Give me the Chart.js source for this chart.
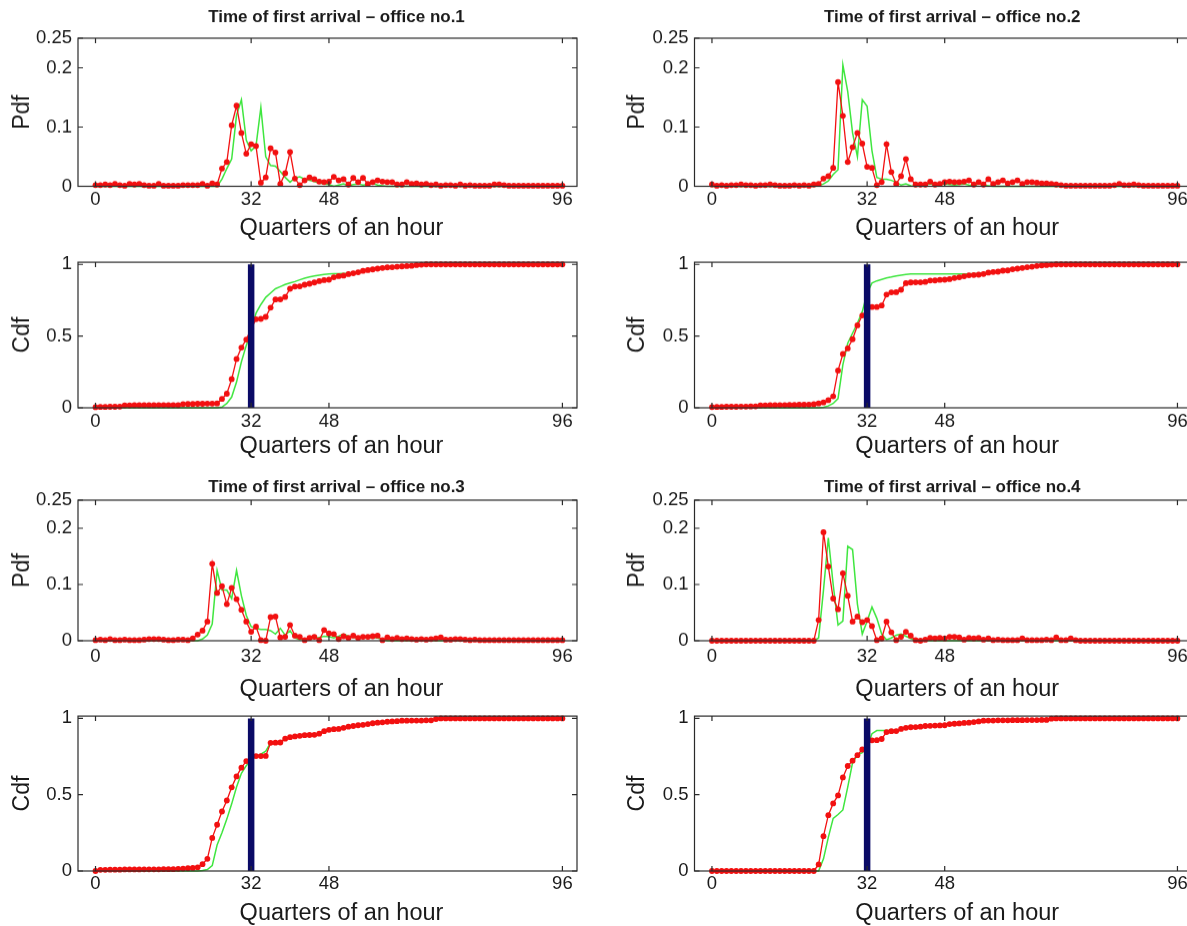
<!DOCTYPE html>
<html>
<head>
<meta charset="utf-8">
<script src="https://cdn.jsdelivr.net/npm/chart.js@4.4.1/dist/chart.umd.min.js"></script>
<style>
  body { margin: 0; background: #fff; overflow: hidden; width: 1187px; height: 926px; position: relative; }
  .panel { position: absolute; }
</style>
</head>
<body>
<div id="panels"></div>
<script>
// quarters of an hour, 0..96
const quarters = [0,1,2,3,4,5,6,7,8,9,10,11,12,13,14,15,16,17,18,19,20,21,22,23,24,25,26,27,28,29,
  30,31,32,33,34,35,36,37,38,39,40,41,42,43,44,45,46,47,48,49,50,51,52,53,54,55,56,57,58,59,
  60,61,62,63,64,65,66,67,68,69,70,71,72,73,74,75,76,77,78,79,80,81,82,83,84,85,86,87,88,89,
  90,91,92,93,94,95,96];
const xTicks = [0, 32, 48, 96];
const pdfTicks = [0, 0.1, 0.2, 0.25];
const cdfTicks = [0, 0.5, 1];
const markQuarter = 32;
const officeNames = ['office no.1', 'office no.2', 'office no.3', 'office no.4'];

// ---- office 1 ----
const office1PdfMeasured = [
  0.002,0.002,0.003,0.002,0.004,0.002,0.001,0.004,0.003,0.004,
  0.002,0.001,0.001,0.004,0.001,0.001,0.001,0.001,0.002,0.002,
  0.002,0.002,0.004,0.001,0.005,0.003,0.030,0.041,0.103,0.136,
  0.090,0.055,0.071,0.068,0.006,0.015,0.064,0.057,0.004,0.022,
  0.058,0.013,0.002,0.010,0.015,0.012,0.008,0.007,0.008,0.016,
  0.010,0.012,0.003,0.014,0.007,0.014,0.004,0.007,0.010,0.008,
  0.007,0.007,0.003,0.003,0.007,0.004,0.005,0.003,0.004,0.002,
  0.003,0.001,0.002,0.002,0.001,0.003,0.001,0.002,0.001,0.001,
  0.001,0.001,0.003,0.003,0.002,0.001,0.001,0.001,0.001,0.001,
  0.001,0.001,0.001,0.001,0.001,0.001,0.001];
const office1PdfModel = [
  0,0,0,0,0,0,0,0,0,0,
  0,0,0,0,0,0,0,0,0,0,
  0,0,0,0,0,0,0.012,0.030,0.046,0.120,
  0.146,0.078,0.060,0.068,0.133,0.050,0.035,0.034,0.025,0.015,
  0.007,0.014,0.016,0.012,0.010,0.008,0.006,0.004,0.003,0.000,
  0.002,0.004,0.001,0.003,0.004,0.002,0.003,0.005,0.002,0.001,
  0,0,0,0,0,0,0,0,0,0,
  0,0,0,0,0,0,0,0,0,0,
  0,0,0,0,0,0,0,0,0,0,
  0,0,0,0,0,0,0];
const office1CdfMeasured = [
  0.004,0.006,0.006,0.007,0.007,0.008,0.017,0.017,0.018,0.018,
  0.018,0.018,0.018,0.019,0.019,0.019,0.019,0.019,0.026,0.027,
  0.027,0.028,0.028,0.029,0.029,0.030,0.062,0.098,0.200,0.340,
  0.420,0.476,0.550,0.618,0.620,0.634,0.698,0.755,0.756,0.773,
  0.830,0.845,0.847,0.858,0.865,0.874,0.883,0.890,0.893,0.910,
  0.918,0.922,0.932,0.938,0.945,0.955,0.960,0.965,0.970,0.975,
  0.979,0.980,0.984,0.986,0.988,0.990,0.995,0.998,1,1,
  1,1,1,1,1,1,1,1,1,1,
  1,1,1,1,1,1,1,1,1,1,
  1,1,1,1,1,1,1];
const office1CdfModel = [
  0,0,0,0,0,0,0,0,0,0,
  0,0,0,0,0,0,0,0,0,0,
  0,0,0,0,0,0,0.005,0.030,0.075,0.180,
  0.320,0.435,0.530,0.660,0.720,0.770,0.800,0.830,0.845,0.860,
  0.870,0.880,0.892,0.904,0.912,0.920,0.925,0.930,0.934,0.935,
  0.936,0.937,0.938,0.940,0.945,0.955,0.960,0.965,0.970,0.975,
  0.979,0.980,0.984,0.986,0.988,0.990,0.995,0.998,1,1,
  1,1,1,1,1,1,1,1,1,1,
  1,1,1,1,1,1,1,1,1,1,
  1,1,1,1,1,1,1];

// ---- office 2 ----
const office2PdfMeasured = [
  0.003,0.001,0.002,0.001,0.002,0.002,0.003,0.002,0.002,0.001,
  0.002,0.002,0.003,0.002,0.001,0.001,0.001,0.002,0.001,0.002,
  0.001,0.003,0.004,0.013,0.017,0.031,0.176,0.119,0.041,0.066,
  0.090,0.072,0.033,0.031,0.002,0.007,0.071,0.024,0.004,0.017,
  0.046,0.012,0.003,0.003,0.003,0.008,0.003,0.004,0.007,0.008,
  0.007,0.007,0.008,0.010,0.003,0.007,0.003,0.012,0.004,0.007,
  0.010,0.005,0.007,0.010,0.004,0.007,0.007,0.006,0.005,0.005,
  0.004,0.003,0.002,0.001,0.001,0.001,0.001,0.001,0.001,0.001,
  0.001,0.001,0.001,0.002,0.004,0.002,0.002,0.003,0.002,0.001,
  0.001,0.001,0.001,0.001,0.001,0.001,0.001];
const office2PdfModel = [
  0,0,0,0,0,0,0,0,0,0,
  0,0,0,0,0,0,0,0,0,0,
  0,0,0.001,0.004,0.009,0.020,0.028,0.205,0.160,0.090,
  0.050,0.146,0.135,0.060,0.015,0.012,0.012,0.010,0.007,0.002,
  0.004,0.001,0.000,0.002,0.003,0.004,0.002,0.003,0.004,0.003,
  0.002,0.003,0.004,0.002,0.001,0.004,0.002,0.001,0,0,
  0,0,0,0,0,0,0,0,0,0,
  0,0,0,0,0,0,0,0,0,0,
  0,0,0,0,0,0,0,0,0,0,
  0,0,0,0,0,0,0];
const office2CdfMeasured = [
  0.005,0.006,0.006,0.007,0.007,0.007,0.008,0.008,0.009,0.010,
  0.016,0.017,0.018,0.018,0.019,0.019,0.020,0.020,0.021,0.021,
  0.022,0.025,0.030,0.037,0.053,0.080,0.260,0.375,0.414,0.478,
  0.575,0.644,0.680,0.703,0.703,0.713,0.789,0.805,0.806,0.823,
  0.869,0.874,0.875,0.875,0.878,0.887,0.888,0.892,0.893,0.897,
  0.905,0.910,0.917,0.924,0.926,0.928,0.933,0.943,0.947,0.949,
  0.956,0.958,0.966,0.970,0.975,0.980,0.984,0.989,0.993,0.995,
  0.998,1,1,1,1,1,1,1,1,1,
  1,1,1,1,1,1,1,1,1,1,
  1,1,1,1,1,1,1];
const office2CdfModel = [
  0,0,0,0,0,0,0,0,0,0,
  0,0,0,0,0,0,0,0,0,0,
  0,0,0,0.004,0.013,0.030,0.064,0.300,0.450,0.520,
  0.590,0.670,0.800,0.870,0.885,0.895,0.905,0.912,0.920,0.925,
  0.930,0.933,0.933,0.933,0.933,0.933,0.933,0.933,0.933,0.933,
  0.933,0.933,0.933,0.933,0.935,0.937,0.940,0.944,0.947,0.949,
  0.956,0.958,0.966,0.970,0.975,0.980,0.984,0.989,0.993,0.995,
  0.998,1,1,1,1,1,1,1,1,1,
  1,1,1,1,1,1,1,1,1,1,
  1,1,1,1,1,1,1];

// ---- office 3 ----
const office3PdfMeasured = [
  0.001,0.002,0.001,0.003,0.001,0.001,0.002,0.001,0.001,0.001,
  0.002,0.003,0.003,0.003,0.002,0.001,0.001,0.002,0.002,0.001,
  0.004,0.011,0.018,0.034,0.137,0.085,0.097,0.065,0.094,0.074,
  0.055,0.034,0.016,0.025,0.001,0.000,0.042,0.043,0.006,0.007,
  0.028,0.009,0.007,0.001,0.005,0.007,0.001,0.019,0.013,0.012,
  0.003,0.008,0.005,0.009,0.005,0.007,0.007,0.008,0.009,0.001,
  0.006,0.003,0.005,0.003,0.004,0.003,0.002,0.003,0.002,0.003,
  0.004,0.006,0.002,0.002,0.003,0.003,0.002,0.001,0.002,0.001,
  0.001,0.001,0.001,0.001,0.001,0.001,0.001,0.001,0.001,0.001,
  0.001,0.001,0.001,0.001,0.001,0.001,0.001];
const office3PdfModel = [
  0,0,0,0,0,0,0,0,0,0,
  0,0,0,0,0,0,0,0,0,0,
  0,0,0.003,0.010,0.030,0.125,0.090,0.090,0.075,0.125,
  0.080,0.045,0.025,0.022,0.020,0.020,0.018,0.012,0.022,0.010,
  0.018,0.005,0.002,0.003,0.004,0.005,0.006,0.008,0.007,0.005,
  0.008,0.012,0.008,0.006,0.005,0.006,0.005,0.006,0.005,0.002,
  0,0,0,0,0,0,0,0,0,0,
  0,0,0,0,0,0,0,0,0,0,
  0,0,0,0,0,0,0,0,0,0,
  0,0,0,0,0,0,0];
const office3CdfMeasured = [
  0.000,0.008,0.008,0.009,0.009,0.009,0.010,0.010,0.010,0.010,
  0.011,0.011,0.011,0.011,0.012,0.012,0.012,0.014,0.016,0.018,
  0.020,0.024,0.045,0.080,0.217,0.303,0.390,0.462,0.548,0.620,
  0.677,0.720,0.745,0.753,0.753,0.754,0.840,0.841,0.842,0.867,
  0.877,0.882,0.886,0.890,0.891,0.892,0.900,0.916,0.925,0.929,
  0.931,0.938,0.946,0.950,0.955,0.958,0.963,0.968,0.972,0.974,
  0.978,0.980,0.982,0.985,0.985,0.986,0.986,0.986,0.987,0.987,
  0.996,1,1,1,1,1,1,1,1,1,
  1,1,1,1,1,1,1,1,1,1,
  1,1,1,1,1,1,1];
const office3CdfModel = [
  0,0,0,0,0,0,0,0,0,0,
  0,0,0,0,0,0,0,0,0,0,
  0,0,0.003,0.010,0.035,0.170,0.250,0.340,0.440,0.550,
  0.640,0.690,0.730,0.750,0.765,0.785,0.840,0.841,0.842,0.867,
  0.877,0.882,0.886,0.890,0.891,0.892,0.900,0.916,0.925,0.929,
  0.931,0.938,0.946,0.950,0.955,0.958,0.963,0.968,0.972,0.974,
  0.978,0.980,0.982,0.985,0.985,0.986,0.986,0.986,0.987,0.987,
  0.996,1,1,1,1,1,1,1,1,1,
  1,1,1,1,1,1,1,1,1,1,
  1,1,1,1,1,1,1];

// ---- office 4 ----
const office4PdfMeasured = [
  0,0,0,0,0,0,0,0,0,0,
  0,0,0,0,0,0,0,0,0,0,
  0,0,0.037,0.193,0.132,0.075,0.056,0.120,0.080,0.034,
  0.043,0.033,0.037,0.026,0.001,0.004,0.034,0.015,0.001,0.007,
  0.016,0.009,0.001,0.000,0.002,0.005,0.004,0.005,0.004,0.007,
  0.007,0.006,0.002,0.005,0.004,0.005,0.002,0.004,0.001,0.002,
  0.001,0.001,0.001,0.001,0.004,0.001,0.001,0.001,0.001,0.002,
  0.001,0.006,0.001,0.001,0.004,0.001,0,0,0,0,
  0,0,0,0,0,0,0,0,0,0,
  0,0,0,0,0,0,0];
const office4PdfModel = [
  0,0,0,0,0,0,0,0,0,0,
  0,0,0,0,0,0,0,0,0,0,
  0,0,0.005,0.090,0.183,0.100,0.028,0.035,0.168,0.162,
  0.065,0.012,0.035,0.060,0.040,0.012,0.002,0.005,0.010,0.012,
  0.008,0.004,0.001,0,0,0,0,0,0,0,
  0,0,0,0,0,0,0,0,0,0,
  0,0,0,0,0,0,0,0,0,0,
  0,0,0,0,0,0,0,0,0,0,
  0,0,0,0,0,0,0,0,0,0,
  0,0,0,0,0,0,0];
const office4CdfMeasured = [
  0,0,0,0,0,0,0,0,0,0,
  0,0,0,0,0,0,0,0,0,0,
  0,0,0.043,0.228,0.366,0.443,0.495,0.613,0.688,0.723,
  0.759,0.796,0.830,0.856,0.857,0.865,0.910,0.916,0.917,0.931,
  0.938,0.942,0.943,0.946,0.950,0.951,0.953,0.954,0.955,0.963,
  0.965,0.967,0.970,0.972,0.976,0.980,0.985,0.986,0.986,0.987,
  0.987,0.987,0.988,0.988,0.988,0.989,0.989,0.989,0.990,0.990,
  0.998,1,1,1,1,1,1,1,1,1,
  1,1,1,1,1,1,1,1,1,1,
  1,1,1,1,1,1,1];
const office4CdfModel = [
  0,0,0,0,0,0,0,0,0,0,
  0,0,0,0,0,0,0,0,0,0,
  0,0,0,0.080,0.220,0.345,0.370,0.400,0.550,0.710,
  0.760,0.775,0.810,0.900,0.920,0.920,0.920,0.920,0.921,0.931,
  0.938,0.942,0.943,0.946,0.950,0.951,0.953,0.954,0.955,0.963,
  0.965,0.967,0.970,0.972,0.976,0.980,0.985,0.986,0.986,0.987,
  0.987,0.987,0.988,0.988,0.988,0.989,0.989,0.989,0.990,0.990,
  0.998,1,1,1,1,1,1,1,1,1,
  1,1,1,1,1,1,1,1,1,1,
  1,1,1,1,1,1,1];

const FONT = "'Liberation Sans', Arial, Helvetica, sans-serif";
const INK = '#1a1a1a';
const RED = '#f21010';
const GREEN = '#3fe63f';
const NAVY = '#0a0a66';

// box frame with inward ticks on all four sides, plus the panel title and x label
const frameTicks = {
  id: 'frameTicks',
  afterDatasetsDraw(chart, args, opts) {
    const { ctx, chartArea: a, scales: { x, y } } = chart;
    ctx.save();
    ctx.strokeStyle = '#2a2a2a';
    ctx.lineWidth = 1.2;
    ctx.strokeRect(a.left, a.top, a.right - a.left, a.bottom - a.top);
    ctx.beginPath();
    x.ticks.forEach(t => {
      const px = x.getPixelForValue(t.value);
      ctx.moveTo(px, a.bottom); ctx.lineTo(px, a.bottom - 5);
      ctx.moveTo(px, a.top); ctx.lineTo(px, a.top + 5);
    });
    y.ticks.forEach(t => {
      const py = y.getPixelForValue(t.value);
      ctx.moveTo(a.left, py); ctx.lineTo(a.left + 5, py);
      ctx.moveTo(a.right, py); ctx.lineTo(a.right - 5, py);
    });
    ctx.stroke();

    const mid = (a.left + a.right) / 2;
    ctx.fillStyle = INK;
    ctx.textAlign = 'center';
    ctx.textBaseline = 'middle';
    if (opts.title) {
      ctx.font = 'bold 17px ' + FONT;
      ctx.fillText(opts.title, mid + 9, opts.titleY);
    }
    ctx.font = '23.5px ' + FONT;
    ctx.fillText(opts.xTitle, mid + 14, opts.xTitleY);
    ctx.restore();
  }
};

const columns = [{ left: 0, boxLeft: 78 }, { left: 615, boxLeft: 694.5 }];
const rows = [
  { boxTop: 38, boxBottom: 185.5, kind: 'pdf', titleY: 17, tickPad: 2, xTitleY: 227.5 },
  { boxTop: 259, boxBottom: 407, kind: 'cdf', tickPad: 3, xTitleY: 445.5 },
  { boxTop: 500, boxBottom: 640, kind: 'pdf', titleY: 487, tickPad: 5, xTitleY: 688.5 },
  { boxTop: 713, boxBottom: 871, kind: 'cdf', tickPad: 2, xTitleY: 914 }
];
const PANEL_W = 600, PAD_RIGHT = 23;

const series = [
  [office1PdfMeasured, office1PdfModel, office1CdfMeasured, office1CdfModel],
  [office2PdfMeasured, office2PdfModel, office2CdfMeasured, office2CdfModel],
  [office3PdfMeasured, office3PdfModel, office3CdfMeasured, office3CdfModel],
  [office4PdfMeasured, office4PdfModel, office4CdfMeasured, office4CdfModel]
];

function points(vals) {
  return quarters.map((q, i) => ({ x: q, y: vals[i] }));
}

function makePanel(office, row, col) {
  const isPdf = row.kind === 'pdf';
  const top = isPdf ? row.titleY - 15 : row.boxTop - 14;
  const bottom = Math.min(row.xTitleY + 14, 926);
  const topSpace = row.boxTop - top;
  const xAxisH = bottom - row.boxBottom;

  const div = document.createElement('div');
  div.className = 'panel';
  div.style.left = col.left + 'px';
  div.style.top = top + 'px';
  div.style.width = PANEL_W + 'px';
  div.style.height = (bottom - top) + 'px';
  const canvas = document.createElement('canvas');
  div.appendChild(canvas);
  document.getElementById('panels').appendChild(div);

  const s = series[office];
  const measured = isPdf ? s[0] : s[2];
  const model = isPdf ? s[1] : s[3];
  const datasets = [
    { data: points(measured), borderColor: RED, backgroundColor: RED, borderWidth: 1.3,
      pointRadius: 2.9, pointBorderWidth: 0, pointBackgroundColor: RED, showLine: true, clip: 8 },
    { data: points(model), borderColor: GREEN, borderWidth: 1.5, pointRadius: 0, showLine: true, clip: 8 }
  ];
  if (!isPdf) {
    datasets.unshift({ data: [{ x: markQuarter, y: 0 }, { x: markQuarter, y: 1 }], borderColor: NAVY,
      borderWidth: 6.5, borderCapStyle: 'butt', pointRadius: 0, showLine: true, clip: 8 });
  }

  const yTicks = isPdf ? pdfTicks : cdfTicks;
  new Chart(canvas, {
    type: 'scatter',
    data: { datasets },
    options: {
      responsive: true,
      maintainAspectRatio: false,
      animation: false,
      events: [],
      layout: { padding: { top: topSpace, right: PAD_RIGHT, left: 0, bottom: 0 } },
      plugins: {
        legend: { display: false },
        tooltip: { enabled: false },
        frameTicks: {
          title: isPdf ? 'Time of first arrival \u2013 ' + officeNames[office] : null,
          titleY: isPdf ? row.titleY - top : 0,
          xTitle: 'Quarters of an hour',
          xTitleY: row.xTitleY - top
        }
      },
      scales: {
        x: {
          type: 'linear', min: -3.6, max: 99,
          grid: { display: false, drawTicks: false },
          border: { display: false },
          afterBuildTicks: ax => { ax.ticks = xTicks.map(v => ({ value: v })); },
          afterFit: ax => { ax.height = xAxisH; },
          ticks: { padding: row.tickPad, maxRotation: 0, autoSkip: false, color: INK,
            font: { family: FONT, size: 18.5 }, callback: v => String(v) }
        },
        y: {
          type: 'linear', min: 0, max: isPdf ? 0.25 : 1.015,
          grid: { display: false, drawTicks: false },
          border: { display: false },
          afterBuildTicks: ax => { ax.ticks = yTicks.map(v => ({ value: v })); },
          afterFit: ax => { ax.width = col.boxLeft - col.left; },
          ticks: { padding: 6, autoSkip: false, color: INK,
            font: { family: FONT, size: 18.5 }, callback: v => String(v) },
          title: { display: true, text: isPdf ? 'Pdf' : 'Cdf', color: INK,
            font: { family: FONT, size: 23 }, padding: { top: 8.5, bottom: 0 } }
        }
      }
    },
    plugins: [frameTicks]
  });
}

// offices 1,2 on the top half, 3,4 on the bottom half
for (let office = 0; office < 4; office++) {
  const col = columns[office % 2];
  const base = office < 2 ? 0 : 2;
  makePanel(office, rows[base], col);
  makePanel(office, rows[base + 1], col);
}
</script>
</body>
</html>
